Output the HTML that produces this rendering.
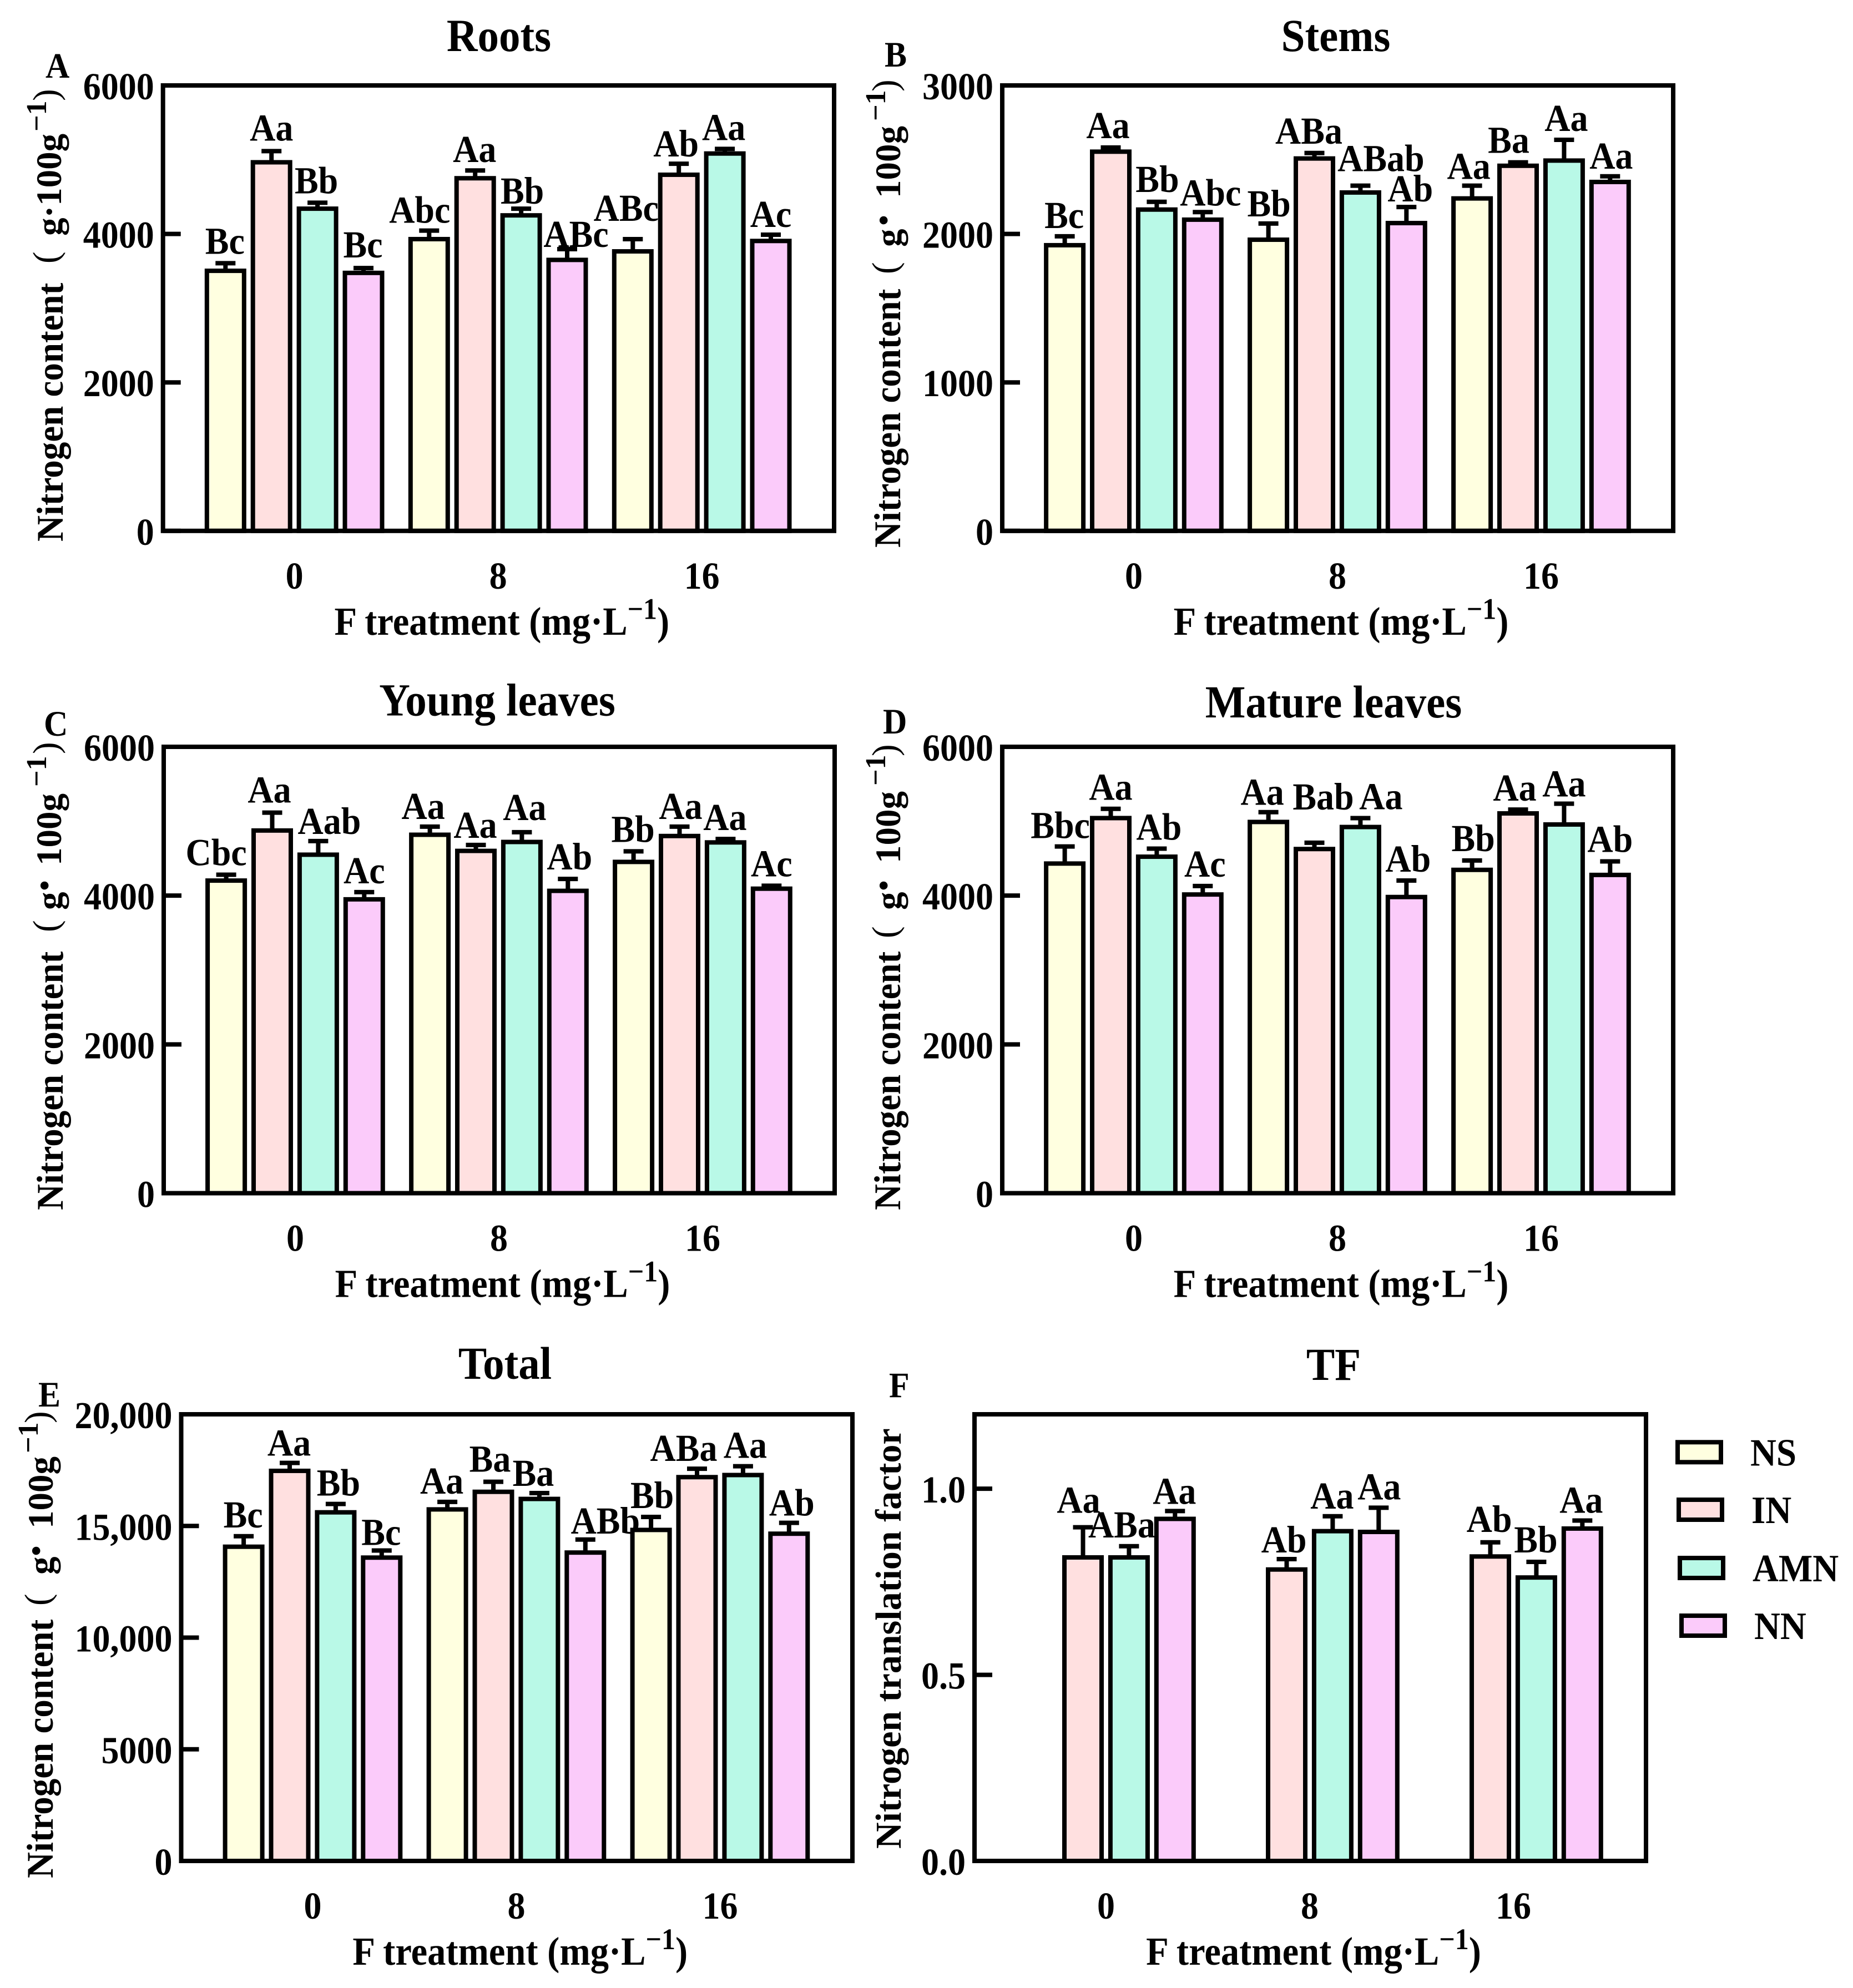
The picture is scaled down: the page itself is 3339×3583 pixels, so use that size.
<!DOCTYPE html>
<html lang="en">
<head>
<meta charset="utf-8">
<title>Nitrogen content by F treatment</title>
<style>
html,body{margin:0;padding:0;background:#fff;}
svg{display:block;}
text{font-family:"Liberation Serif","Noto Serif CJK SC",serif;font-weight:bold;fill:#000;}
</style>
</head>
<body>
<svg id="figure" xmlns="http://www.w3.org/2000/svg" width="3339" height="3583" viewBox="0 0 3339 3583"></svg>
<script>
const categories = ['0', '8', '16'];
const seriesNames = ['NS', 'IN', 'AMN', 'NN'];

const rootsMeans = [[3503, 4965, 4340, 3475], [3930, 4750, 4250, 3650], [3765, 4797, 5083, 3905]];
const rootsErrors = [[103, 150, 80, 65], [115, 105, 90, 145], [165, 148, 62, 85]];
const rootsLetters = [['Bc', 'Aa', 'Bb', 'Bc'], ['Abc', 'Aa', 'Bb', 'ABc'], ['ABc', 'Ab', 'Aa', 'Ac']];
const rootsTicks = [0, 2000, 4000, 6000];
const rootsTickLabels = ['0', '2000', '4000', '6000'];

const stemsMeans = [[1924, 2554, 2164, 2096], [1961, 2508, 2279, 2073], [2239, 2459, 2494, 2350]];
const stemsErrors = [[60, 28, 52, 51], [109, 37, 46, 108], [86, 23, 140, 38]];
const stemsLetters = [['Bc', 'Aa', 'Bb', 'Abc'], ['Bb', 'ABa', 'ABab', 'Ab'], ['Aa', 'Ba', 'Aa', 'Aa']];
const stemsTicks = [0, 1000, 2000, 3000];
const stemsTickLabels = ['0', '1000', '2000', '3000'];

const youngMeans = [[4202, 4875, 4550, 3950], [4818, 4601, 4721, 4064], [4453, 4801, 4715, 4093]];
const youngErrors = [[79, 240, 183, 97], [109, 80, 131, 160], [142, 126, 46, 40]];
const youngLetters = [['Cbc', 'Aa', 'Aab', 'Ac'], ['Aa', 'Aa', 'Aa', 'Ab'], ['Bb', 'Aa', 'Aa', 'Ac']];
const youngTicks = [0, 2000, 4000, 6000];
const youngTickLabels = ['0', '2000', '4000', '6000'];

const matureMeans = [[4431, 5042, 4523, 4015], [4990, 4626, 4922, 3981], [4346, 5105, 4956, 4278]];
const matureErrors = [[229, 125, 108, 114], [132, 85, 120, 222], [126, 51, 280, 182]];
const matureLetters = [['Bbc', 'Aa', 'Ab', 'Ac'], ['Aa', 'Bab', 'Aa', 'Ab'], ['Bb', 'Aa', 'Aa', 'Ab']];
const matureTicks = [0, 2000, 4000, 6000];
const matureTickLabels = ['0', '2000', '4000', '6000'];

const totalMeans = [[14070, 17467, 15610, 13583], [15741, 16529, 16210, 13809], [14822, 17186, 17280, 14653]];
const totalErrors = [[470, 357, 375, 319], [338, 450, 263, 581], [581, 375, 393, 488]];
const totalLetters = [['Bc', 'Aa', 'Bb', 'Bc'], ['Aa', 'Ba', 'Ba', 'ABb'], ['Bb', 'ABa', 'Aa', 'Ab']];
const totalTicks = [0, 5000, 10000, 15000, 20000];
const totalTickLabels = ['0', '5000', '10,000', '15,000', '20,000'];

const tfMeans = [[null, 0.8155, 0.8155, 0.919], [null, 0.783, 0.886, 0.884], [null, 0.818, 0.7615, 0.893]];
const tfErrors = [[null, 0.081, 0.03, 0.021], [null, 0.028, 0.04, 0.065], [null, 0.038, 0.042, 0.0215]];
const tfLetters = [[null, 'Aa', 'ABa', 'Aa'], [null, 'Ab', 'Aa', 'Aa'], [null, 'Ab', 'Bb', 'Aa']];
const tfTicks = [0, 0.5, 1.0];
const tfTickLabels = ['0.0', '0.5', '1.0'];

const fills = ['#FFFFE0', '#FFE0E0', '#B9F9E7', '#FBCBFA'];

const svg = document.getElementById('figure');
const NS_URI = 'http://www.w3.org/2000/svg';
const TEXT_STRETCH = 1.08;

function mk(tag, attrs, parent, content) {
  const el = document.createElementNS(NS_URI, tag);
  for (const k in attrs) el.setAttribute(k, attrs[k]);
  if (content !== undefined) el.textContent = content;
  parent.appendChild(el);
  return el;
}

/* Horizontal text in the figure is slightly taller than the font's natural proportions */
function label(x, y, size, anchor, parent, content) {
  return mk('text', { transform: 'translate(' + x + ',' + y + ') scale(1,' + TEXT_STRETCH + ')', 'text-anchor': anchor, 'font-size': size }, parent, content);
}

/* Label placement per bar: [dx, gap above the error cap] — layout only */
const panels = [
  { key: 'roots', title: 'Roots', letter: 'A', means: rootsMeans, errors: rootsErrors, letters: rootsLetters, ticks: rootsTicks, tickLabels: rootsTickLabels,
    x0: 293.7, x1: 1503, y0: 154, y1: 956.8, max: 6000, titleX: 899, titleY: 92, letterX: 82, letterY: 140,
    yl: { x: 110, y: 976, sup: 83, mainDy: 3, head: 'g·100g', parts: [501, 551, 739, 794] },
    nudge: [[[-1,15],[0,17],[-2,15],[-1,17]],[[-17,12],[-1,13],[2,7],[16,2]],[[-12,31],[-5,11],[-2,14],[0,12]]] },
  { key: 'stems', title: 'Stems', letter: 'B', means: stemsMeans, errors: stemsErrors, letters: stemsLetters, ticks: stemsTicks, tickLabels: stemsTickLabels,
    x0: 1806, x1: 3015, y0: 154, y1: 956.8, max: 3000, titleX: 2407, titleY: 92, letterX: 1594, letterY: 120,
    yl: { x: 1622, y: 987, sup: 1595, mainDy: 0, head: 'g', dot: 590, tail: '100g', tailX: 630, parts: [493, 542, 769, 822] },
    nudge: [[[-1,13],[-5,15],[1,16],[14,10]],[[1,11],[-10,15],[37,24],[7,8]],[[-6,10],[-17,15],[4,14],[2,12]]] },
  { key: 'young', title: 'Young leaves', letter: 'C', means: youngMeans, errors: youngErrors, letters: youngLetters, ticks: youngTicks, tickLabels: youngTickLabels,
    x0: 295, x1: 1504, y0: 1346, y1: 2150.5, max: 6000, titleX: 896, titleY: 1289.5, letterX: 79, letterY: 1326,
    yl: { x: 110, y: 2181, sup: 83, mainDy: 3, head: 'g', dot: 585, tail: '100g', tailX: 621, parts: [501, 541, 763, 822] },
    nudge: [[[-18,15],[-5,16],[20,11],[0,14]],[[-12,12],[-1,11],[5,20],[3,15]],[[-1,15],[2,12],[-1,14],[0,15]]] },
  { key: 'mature', title: 'Mature leaves', letter: 'D', means: matureMeans, errors: matureErrors, letters: matureLetters, ticks: matureTicks, tickLabels: matureTickLabels,
    x0: 1806, x1: 3015, y0: 1346, y1: 2150.5, max: 6000, titleX: 2403, titleY: 1293, letterX: 1591, letterY: 1322,
    yl: { x: 1622, y: 2181, sup: 1595, mainDy: 0, head: 'g', dot: 585, tail: '100g', tailX: 625, parts: [490, 541, 765, 818] },
    nudge: [[[-8,13],[0,14],[4,14],[4,15]],[[-11,11],[16,58],[37,14],[3,14]],[[2,15],[-6,14],[0,11],[0,15]]] },
  { key: 'total', title: 'Total', letter: 'E', means: totalMeans, errors: totalErrors, letters: totalLetters, ticks: totalTicks, tickLabels: totalTickLabels,
    x0: 326.5, x1: 1536, y0: 2549, y1: 3354, max: 20000, titleX: 910, titleY: 2485, letterX: 69, letterY: 2535,
    yl: { x: 95, y: 3385, sup: 68, mainDy: 0, head: 'g', dot: 590, tail: '100g', tailX: 630, parts: [491, 547, 766, 820] },
    nudge: [[[-1,14],[-1,11],[5,13],[-1,8]],[[-10,13],[-6,16],[-11,11],[36,9]],[[2,14],[-24,12],[4,13],[5,11]]] },
  { key: 'tf', title: 'TF', letter: 'F', means: tfMeans, errors: tfErrors, letters: tfLetters, ticks: tfTicks, tickLabels: tfTickLabels,
    x0: 1756, x1: 2966, y0: 2549, y1: 3354, max: 1.2, titleX: 2403, titleY: 2487, letterX: 1602, letterY: 2518,
    yl: { x: 1623, y: 3332, plain: 'Nitrogen translation factor' },
    nudge: [[[0,0],[-8,24],[-13,14],[-1,11]],[[0,0],[-5,10],[-1,12],[1,13]],[[0,0],[-2,17],[-1,15],[-2,12]]] }
];

const BAR_WIDTH = 67, BAR_PITCH = 82.9, GROUP_PITCH = 367, FIRST_BAR = 112.6, STROKE = 8;

function drawPanel(p) {
  const g = mk('g', {}, svg);
  
  

  const yScale = v => p.y1 - (v / p.max) * (p.y1 - p.y0);
  const xScale = (gi, si) => p.x0 + FIRST_BAR + gi * GROUP_PITCH + si * BAR_PITCH;

  const title = label(p.titleX, p.titleY, 77, 'middle', g, p.title);
  
  

  const letter = label(p.letterX, p.letterY, 60, 'start', g, p.letter);
  
  

  p.means.forEach((row, gi) => {
    row.forEach((value, si) => {
      if (value === null) return;
      const cx = xScale(gi, si);
      const top = yScale(value);
      const errTop = yScale(value + p.errors[gi][si]);

      const stem = mk('line', { x1: cx, x2: cx, y1: top, y2: errTop, stroke: '#000', 'stroke-width': STROKE }, g);
      
      

      const cap = mk('line', { x1: cx - 18, x2: cx + 18, y1: errTop, y2: errTop, stroke: '#000', 'stroke-width': STROKE }, g);
      
      

      const bar = mk('rect', { x: cx - BAR_WIDTH / 2, y: top, width: BAR_WIDTH, height: p.y1 - top, fill: fills[si], stroke: '#000', 'stroke-width': STROKE }, g);
      
      

      const n = p.nudge[gi][si];
      const lab = label(cx + n[0], errTop - n[1] - 2, 64, 'middle', g, p.letters[gi][si]);
      
      
    });
  });

  const frame = mk('rect', { x: p.x0, y: p.y0, width: p.x1 - p.x0, height: p.y1 - p.y0, fill: 'none', stroke: '#000', 'stroke-width': STROKE }, g);
  
  

  p.ticks.forEach((t, i) => {
    const ty = yScale(t);
    const tick = mk('line', { x1: p.x0, x2: p.x0 + 32, y1: ty, y2: ty, stroke: '#000', 'stroke-width': STROKE }, g);
    
    
    const tl = label(p.x0 - 16, ty + 25, 64, 'end', g, p.tickLabels[i]);
    
    
  });

  categories.forEach((c, gi) => {
    const cx = xScale(gi, 1.5);
    const xl = label(cx, p.y1 + 104, 64, 'middle', g, c);
    
    
  });

  const xt = mk('text', { transform: 'translate(' + ((p.x0 + p.x1) / 2 + 6) + ',' + (p.y1 + 187) + ') scale(1,' + TEXT_STRETCH + ')', 'text-anchor': 'middle', 'font-size': 66.5 }, g);
  
  
  mk('tspan', {}, xt, 'F treatment (mg·L');
  mk('tspan', { dy: -26, 'font-size': 50 }, xt, '−1');
  mk('tspan', { dy: 26 }, xt, ')');

  const yl = p.yl;
  const yg = mk('g', { transform: 'translate(' + yl.x + ',' + yl.y + ') rotate(-90)' }, g);
  
  
  if (yl.plain) {
    mk('text', { x: 0, y: 0, 'font-size': 66 }, yg, yl.plain);
    return;
  }
  mk('text', { transform: 'translate(0,' + yl.mainDy + ') scale(1,1.05)', 'font-size': 65 }, yg, 'Nitrogen content');
  mk('text', { x: yl.parts[0], y: -6, 'font-size': 65, style: 'font-weight:normal' }, yg, '(');
  mk('text', { x: yl.parts[1], y: 0, 'font-size': 65 }, yg, yl.head);
  if (yl.tail) {
    mk('text', { x: yl.dot, y: 0, 'font-size': 90, 'text-anchor': 'middle' }, yg, '·');
    mk('text', { x: yl.tailX, y: 0, 'font-size': 65 }, yg, yl.tail);
  }
  mk('text', { x: yl.parts[2], y: yl.sup - yl.x, 'font-size': 52 }, yg, '−1');
  mk('text', { x: yl.parts[3], y: -6, 'font-size': 65, style: 'font-weight:normal' }, yg, ')');
}

panels.forEach(drawPanel);

const legend = mk('g', {}, svg);


const legendBoxes = [[3019, 2595.3], [3021, 2699], [3023, 2804], [3026, 2908]];
seriesNames.forEach((name, i) => {
  const [bx, by] = legendBoxes[i];
  const sw = mk('rect', { x: bx + 4, y: by + 4, width: 78, height: 36, fill: fills[i], stroke: '#000', 'stroke-width': STROKE }, legend);
  
  
  const lt = label(bx + 135, by + 46, 65, 'start', legend, name);
  
  
});
</script>
</body>
</html>
